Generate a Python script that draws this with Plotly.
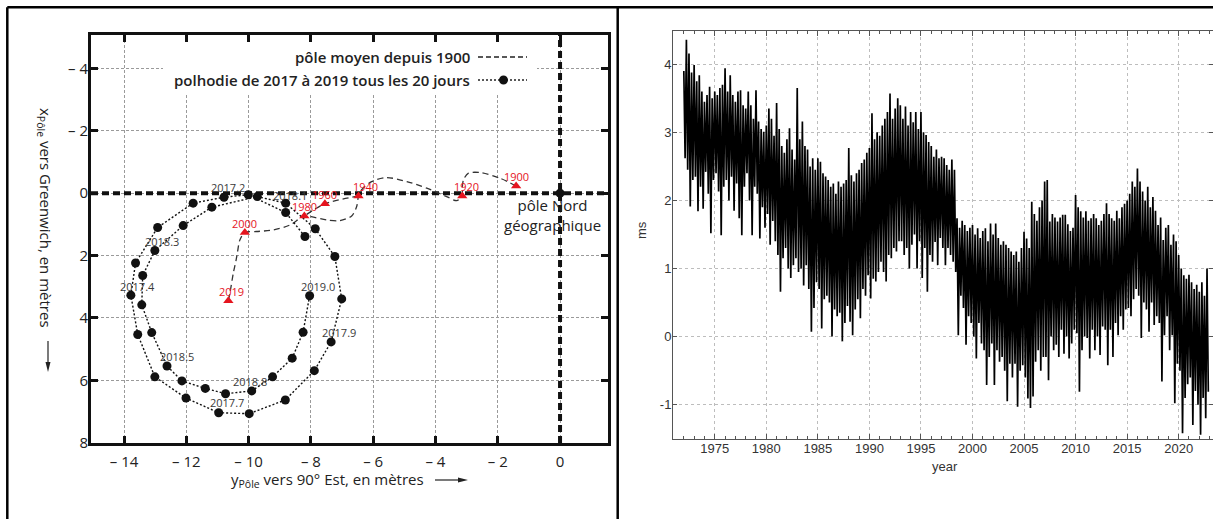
import plotly.graph_objects as go

W, H = 1213, 519

# ---------------------------------------------------------------------------
# Left panel: polar motion (metres). Horizontal axis = y_pole, vertical = x_pole
# ---------------------------------------------------------------------------
# polhody 2017 -> 2019, one point every 20 days
POLHODY_Y = [-8.19, -8.81, -10.01, -10.79, -11.78, -12.92, -13.63, -13.78, -13.56, -13.01,
             -12.01, -10.96, -9.98, -8.82, -7.89, -7.35, -7.01, -7.23, -7.86, -8.81,
             -9.72, -11.18, -12.10, -13.01, -13.40, -13.43, -13.11, -12.62, -12.14, -11.39,
             -10.74, -9.90, -9.23, -8.60, -8.25, -8.04]
POLHODY_X = [1.39, 0.62, 0.05, 0.13, 0.32, 1.10, 2.24, 3.27, 4.53, 5.89,
             6.57, 7.04, 7.07, 6.63, 5.69, 4.77, 3.39, 2.03, 1.14, 0.32,
             0.11, 0.45, 1.04, 1.84, 2.64, 3.58, 4.47, 5.54, 6.02, 6.26,
             6.43, 6.34, 5.89, 5.29, 4.46, 3.29]
POLHODY_TAGS = {2: "2017.2", 7: "2017.4", 11: "2017.7", 15: "2017.9", 19: "2018.1",
                23: "2018.3", 27: "2018.5", 31: "2018.8", 35: "2019.0"}

# mean pole track since 1900 (None separates the 1940-1960-1980 chord)
MEAN_Y = [-1.41, -1.93, -2.57, -2.94, -3.10, -3.14, -3.14, -3.32, -3.64, -4.28, -4.92,
          -5.57, -6.05, -6.37, -6.47, -6.53, -6.69, -7.07, -7.49, -7.92, -8.21, -8.67,
          -9.21, -9.74, -10.12, -10.28, -10.36, -10.40, -10.49, -10.60, -10.65,
          None, -6.47, -7.55, -8.21]
MEAN_X = [-0.23, -0.48, -0.66, -0.64, -0.43, -0.11, 0.09, 0.24, 0.11, -0.16, -0.37,
          -0.50, -0.37, -0.11, 0.09, 0.43, 0.73, 0.88, 0.86, 0.77, 0.73, 1.02,
          1.18, 1.23, 1.26, 1.50, 1.92, 2.14, 2.56, 3.21, 3.45,
          None, 0.09, 0.34, 0.73]

EPOCHS = ["1900", "1920", "1940", "1960", "1980", "2000", "2019"]
EPOCH_Y = [-1.41, -3.14, -6.47, -7.55, -8.21, -10.12, -10.65]
EPOCH_X = [-0.23, 0.09, 0.09, 0.34, 0.73, 1.26, 3.45]

GEO_POLE_Y = [0.0]
GEO_POLE_X = [0.0]

X_RANGE = [-15.06, 1.54]
Y_RANGE = [8.01, -5.07]
X_TICKS = [-14, -12, -10, -8, -6, -4, -2, 0]
X_TICK_TEXT = ["\u2013 14", "\u2013 12", "\u2013 10", "\u2013 8", "\u2013 6", "\u2013 4", "\u2013 2", "0"]
Y_TICKS = [-4, -2, 0, 2, 4, 6, 8]
Y_TICK_TEXT = ["\u2013 4", "\u2013 2", "0", "2", "4", "6", "8"]

# ---------------------------------------------------------------------------
# Right panel: length-of-day excess (ms), quarterly highs / lows from 1972.0
# ---------------------------------------------------------------------------
LOD_START = 1972.0
LOD_HI = [
    3.90, 4.36, 4.16, 3.88,   # 1972
    3.99, 3.75, 3.84, 3.60,   # 1973
    3.45, 3.55, 3.67, 3.50,   # 1974
    3.60, 3.55, 3.65, 3.70,   # 1975
    3.94, 3.60, 3.84, 3.55,   # 1976
    3.45, 3.60, 3.62, 3.40,   # 1977
    3.35, 3.60, 3.40, 3.20,   # 1978
    3.62, 3.16, 3.05, 3.01,   # 1979
    3.10, 3.35, 3.20, 2.95,   # 1980
    3.43, 3.05, 2.80, 2.70,   # 1981
    2.90, 3.06, 2.75, 2.60,   # 1982
    3.65, 2.90, 3.16, 2.80,   # 1983
    2.75, 2.50, 2.62, 2.45,   # 1984
    2.62, 2.57, 2.40, 2.35,   # 1985
    2.30, 2.20, 2.25, 2.10,   # 1986
    2.28, 2.20, 2.25, 2.30,   # 1987
    2.77, 2.37, 2.28, 2.40,   # 1988
    2.45, 2.55, 2.60, 2.70,   # 1989
    2.77, 3.28, 2.90, 3.00,   # 1990
    2.95, 3.10, 3.20, 3.30,   # 1991
    3.57, 3.20, 3.35, 3.50,   # 1992
    3.40, 3.20, 3.38, 3.10,   # 1993
    3.30, 3.15, 3.30, 3.05,   # 1994
    3.30, 3.00, 2.96, 2.86,   # 1995
    2.80, 2.64, 2.75, 2.62,   # 1996
    2.64, 2.62, 2.52, 2.45,   # 1997
    2.60, 2.45, 1.74, 1.60,   # 1998
    1.70, 1.64, 1.55, 1.60,   # 1999
    1.64, 1.50, 1.59, 1.45,   # 2000
    1.55, 1.59, 1.40, 1.66,   # 2001
    1.50, 1.66, 1.45, 1.35,   # 2002
    1.40, 1.35, 1.30, 1.25,   # 2003
    1.20, 1.25, 1.10, 1.30,   # 2004
    1.54, 1.44, 1.30, 1.98,   # 2005
    1.80, 1.70, 1.90, 2.00,   # 2006
    2.28, 2.30, 1.69, 1.80,   # 2007
    1.75, 1.69, 1.75, 1.79,   # 2008
    1.79, 1.65, 1.55, 1.60,   # 2009
    2.08, 1.90, 1.84, 1.75,   # 2010
    1.84, 1.70, 1.74, 1.80,   # 2011
    1.74, 1.64, 1.70, 1.80,   # 2012
    1.96, 1.80, 1.74, 1.70,   # 2013
    1.85, 1.74, 1.90, 1.95,   # 2014
    2.00, 2.10, 2.28, 2.20,   # 2015
    2.47, 2.28, 2.13, 2.00,   # 2016
    2.20, 1.90, 2.05, 1.85,   # 2017
    1.64, 1.75, 1.42, 1.60,   # 2018
    1.64, 1.35, 1.50, 1.40,   # 2019
    1.20, 1.00, 0.90, 0.85,   # 2020
    0.91, 0.80, 0.70, 0.76,   # 2021
    0.66, 0.80, 0.60, 1.00,   # 2022
]
LOD_LO = [
    2.62, 2.45, 1.91, 2.30,   # 1972
    2.35, 1.84, 2.20, 1.88,   # 1973
    2.42, 2.10, 1.52, 2.30,   # 1974
    2.40, 2.13, 1.49, 2.20,   # 1975
    2.30, 2.00, 2.35, 1.85,   # 1976
    2.25, 1.74, 1.49, 2.20,   # 1977
    2.40, 2.00, 1.49, 2.20,   # 1978
    2.10, 1.44, 1.90, 1.60,   # 1979
    1.80, 1.35, 1.70, 1.40,   # 1980
    1.20, 0.66, 1.15, 1.30,   # 1981
    1.00, 0.86, 1.05, 1.15,   # 1982
    0.95, 1.00, 0.75, 1.05,   # 1983
    0.70, 0.07, 0.42, 0.80,   # 1984
    0.70, 0.12, 0.55, 0.60,   # 1985
    0.50, 0.00, 0.40, 0.30,   # 1986
    0.35, -0.07, 0.20, 0.45,  # 1987
    0.22, 0.02, 0.40, 0.55,   # 1988
    0.27, 0.70, 0.60, 0.90,   # 1989
    0.56, 0.85, 0.81, 0.95,   # 1990
    1.10, 0.95, 0.81, 1.20,   # 1991
    1.15, 1.30, 1.25, 1.40,   # 1992
    1.40, 1.20, 1.30, 1.00,   # 1993
    1.35, 1.50, 1.00, 1.40,   # 1994
    0.86, 1.30, 0.66, 1.20,   # 1995
    1.10, 1.39, 1.05, 1.45,   # 1996
    1.30, 1.05, 1.30, 1.20,   # 1997
    1.10, 0.95, 0.02, 0.60,   # 1998
    0.42, -0.12, 0.30, 0.20,  # 1999
    0.00, -0.32, 0.20, -0.10, # 2000
    -0.20, -0.71, -0.30, -0.10,  # 2001
    -0.71, -0.20, -0.37, -0.30,  # 2002
    -0.50, -0.95, -0.40, -0.60,  # 2003
    -0.40, -1.03, -0.50, -0.42,  # 2004
    -0.60, -0.91, -1.05, -0.88,  # 2005
    -0.37, -0.20, -0.50, -0.30,  # 2006
    -0.30, -0.64, 0.00, -0.20,   # 2007
    -0.12, -0.30, 0.10, -0.25,   # 2008
    0.00, -0.32, -0.10, 0.10,    # 2009
    0.05, -0.81, -0.20, 0.00,    # 2010
    -0.02, -0.32, 0.10, -0.20,   # 2011
    0.00, -0.27, 0.15, 0.10,     # 2012
    -0.42, 0.10, -0.30, 0.20,    # 2013
    0.02, 0.30, 0.10, 0.40,      # 2014
    0.42, 0.30, 0.55, 0.70,      # 2015
    0.60, -0.02, 0.50, 0.40,     # 2016
    0.07, 0.50, 0.17, 0.30,      # 2017
    0.20, -0.66, 0.02, 0.30,     # 2018
    -0.20, 0.02, -0.98, -0.40,   # 2019
    -0.50, -1.42, -0.90, -0.70,  # 2020
    -0.60, -1.30, -0.80, -1.00,  # 2021
    -1.44, -0.90, -1.20, -0.81,  # 2022
]
LOD_X_TICKS = [1975, 1980, 1985, 1990, 1995, 2000, 2005, 2010, 2015, 2020]
LOD_Y_TICKS = [-1, 0, 1, 2, 3, 4]
LOD_Y_TICK_TEXT = ["-1", "0", "1", "2", "3", "4"]

# quarterly samples drawn as a zig-zag (high then low inside each quarter)
lod_t, lod_v = [], []
for i, (hi, lo) in enumerate(zip(LOD_HI, LOD_LO)):
    t = LOD_START + 0.25 * i
    lod_t += [t, t + 0.125]
    lod_v += [hi, lo]

# ---------------------------------------------------------------------------
# helpers: pixel -> paper / left-axis data coordinates
# ---------------------------------------------------------------------------
PL, PR, PT, PB = 91, 608, 35, 443   # polar-motion plot area in pixels


def pxx(p):
    return p / W


def pxy(p):
    return 1 - p / H


def data_x(p):
    return X_RANGE[0] + (p - PL) / (PR - PL) * (X_RANGE[1] - X_RANGE[0])


def data_y(p):
    return Y_RANGE[0] + (PB - p) / (PB - PT) * (Y_RANGE[1] - Y_RANGE[0])


def paper_text(px, py, text, font, **kw):
    base = dict(x=pxx(px), y=pxy(py), xref="paper", yref="paper", text=text,
                showarrow=False, xanchor="center", yanchor="middle", font=font)
    base.update(kw)
    return base


LEFT_FONT = "Open Sans"
RIGHT_FONT = "Liberation Sans"
INK = "#222222"
RED = "#e5141e"

fig = go.Figure()

# white block behind the legend, above the grid
bx0, bx1, by0, by1 = data_x(163), data_x(537), data_y(95), data_y(36)
fig.add_trace(go.Scatter(
    x=[bx0, bx1, bx1, bx0, bx0], y=[by0, by0, by1, by1, by0], mode="lines",
    fill="toself", fillcolor="white", line=dict(width=0, color="white"),
    xaxis="x", yaxis="y", hoverinfo="skip"))

# mean pole axes through the geographic pole
fig.add_trace(go.Scatter(
    x=X_RANGE, y=[0, 0], mode="lines", xaxis="x", yaxis="y",
    line=dict(color="#111111", width=4, dash="7px,4px"), hoverinfo="skip"))
fig.add_trace(go.Scatter(
    x=[0, 0], y=Y_RANGE, mode="lines", xaxis="x", yaxis="y",
    line=dict(color="#111111", width=4, dash="7px,4px"), hoverinfo="skip"))

# mean pole track
fig.add_trace(go.Scatter(
    x=MEAN_Y, y=MEAN_X, mode="lines", xaxis="x", yaxis="y",
    line=dict(color="#333333", width=1.3, dash="6px,4px", shape="spline", smoothing=0.8),
    connectgaps=False, hoverinfo="skip"))

# polhody
fig.add_trace(go.Scatter(
    x=POLHODY_Y, y=POLHODY_X, mode="lines+markers", xaxis="x", yaxis="y",
    line=dict(color="#111111", width=1.4, dash="2px,2px"),
    marker=dict(color="#111111", size=9), hoverinfo="skip"))

# mean pole epochs
fig.add_trace(go.Scatter(
    x=EPOCH_Y, y=EPOCH_X, mode="markers", xaxis="x", yaxis="y",
    marker=dict(symbol="triangle-up", color=RED, size=9), hoverinfo="skip"))

# geographic north pole
fig.add_trace(go.Scatter(
    x=GEO_POLE_Y, y=GEO_POLE_X, mode="markers", xaxis="x", yaxis="y",
    marker=dict(color="#111111", size=9), hoverinfo="skip"))

# length of day
fig.add_trace(go.Scatter(
    x=lod_t, y=lod_v, mode="lines", xaxis="x2", yaxis="y2",
    line=dict(color="#000000", width=1.7), hoverinfo="skip"))

annotations = []

polhody_offsets = {"2017.2": (-20, 7), "2017.4": (7, 9), "2017.7": (8, 10), "2017.9": (8, 9),
                   "2018.1": (4, 8), "2018.3": (7, 9), "2018.5": (10, 9), "2018.8": (-2, 9),
                   "2019.0": (8, 9)}
for idx, tag in POLHODY_TAGS.items():
    dx, dy = polhody_offsets[tag]
    annotations.append(dict(x=POLHODY_Y[idx], y=POLHODY_X[idx], xref="x", yref="y", text=tag,
                            showarrow=False, xshift=dx, yshift=dy,
                            xanchor="center", yanchor="middle",
                            font=dict(family=LEFT_FONT, size=11, color="#3a3a3a")))

epoch_offsets = {"1900": (0, 9), "1920": (4, 9), "1940": (7, 9), "1960": (0, 9),
                 "1980": (0, 9), "2000": (0, 9), "2019": (3, 9)}
for lab, ex, ey in zip(EPOCHS, EPOCH_Y, EPOCH_X):
    dx, dy = epoch_offsets[lab]
    annotations.append(dict(x=ex, y=ey, xref="x", yref="y", text=lab, showarrow=False,
                            xshift=dx, yshift=dy, xanchor="center", yanchor="middle",
                            font=dict(family=LEFT_FONT, size=11, color=RED)))

annotations.append(paper_text(552, 215, "pôle Nord<br>géographique",
                              dict(family=LEFT_FONT, size=15, color=INK), align="center"))

# legend block
legend_font = dict(family=LEFT_FONT, size=15, color=INK, weight=600)
annotations.append(paper_text(472, 57, "pôle moyen depuis 1900", legend_font, xanchor="right"))
annotations.append(paper_text(472, 80, "polhodie de 2017 à 2019 tous les 20 jours", legend_font,
                              xanchor="right"))

# axis titles of the polar-motion panel
title_font = dict(family=LEFT_FONT, size=15, color=INK)
annotations.append(paper_text(327, 480, "y<sub>Pôle</sub> vers 90° Est, en mètres", title_font))
annotations.append(paper_text(45, 218, "x<sub>Pôle</sub> vers Greenwich, en mètres", title_font,
                              textangle=90))

# axis titles of the length-of-day panel
small_font = dict(family=RIGHT_FONT, size=13, color="#333333")
annotations.append(paper_text(641, 230, "ms", small_font, textangle=-90))
annotations.append(paper_text(945, 466, "year", small_font))

shapes = [
    # direction arrows next to the axis titles
    dict(type="line", xref="paper", yref="paper", x0=pxx(435), x1=pxx(460), y0=pxy(480), y1=pxy(480),
         line=dict(color=INK, width=1.2)),
    dict(type="path", xref="paper", yref="paper",
         path=f"M {pxx(458)},{pxy(477.5)} L {pxx(468)},{pxy(480)} L {pxx(458)},{pxy(482.5)} Z",
         fillcolor=INK, line=dict(width=0)),
    dict(type="line", xref="paper", yref="paper", x0=pxx(48), x1=pxx(48), y0=pxy(341), y1=pxy(364),
         line=dict(color=INK, width=1.2)),
    dict(type="path", xref="paper", yref="paper",
         path=f"M {pxx(45.5)},{pxy(362)} L {pxx(48)},{pxy(372)} L {pxx(50.5)},{pxy(362)} Z",
         fillcolor=INK, line=dict(width=0)),
    # legend samples
    dict(type="line", xref="paper", yref="paper", x0=pxx(478), x1=pxx(527), y0=pxy(57), y1=pxy(57),
         line=dict(color=INK, width=1.3, dash="5px,3px")),
    dict(type="line", xref="paper", yref="paper", x0=pxx(478), x1=pxx(527), y0=pxy(80), y1=pxy(80),
         line=dict(color=INK, width=1.4, dash="2px,2px")),
    dict(type="circle", xref="paper", yref="paper", x0=pxx(499), x1=pxx(508),
         y0=pxy(84.5), y1=pxy(75.5), fillcolor="#111111", line=dict(width=0)),
    # page frame
    dict(type="line", xref="paper", yref="paper", x0=pxx(7.3), x1=1, y0=pxy(7.3), y1=pxy(7.3),
         line=dict(color="black", width=2.5)),
    dict(type="line", xref="paper", yref="paper", x0=pxx(7.3), x1=pxx(7.3), y0=0, y1=pxy(7.3),
         line=dict(color="black", width=2.5)),
    dict(type="line", xref="paper", yref="paper", x0=pxx(617.7), x1=pxx(617.7), y0=0, y1=pxy(7.3),
         line=dict(color="black", width=2.5)),
]

left_axis = dict(showline=True, linewidth=3, linecolor="#111111", mirror="ticks",
                 ticks="inside", ticklen=7, tickwidth=3, tickcolor="#111111",
                 showgrid=True, gridcolor="#9a9a9a", gridwidth=1, griddash="3px,2px",
                 zeroline=False, automargin=False,
                 tickfont=dict(family=LEFT_FONT, size=15, color=INK))
right_axis = dict(showline=True, linewidth=1, linecolor="#555555", mirror="ticks",
                  ticks="inside", tickcolor="#555555", tickwidth=1,
                  showgrid=True, gridcolor="#bdbdbd", gridwidth=1, griddash="dot",
                  zeroline=False, automargin=False,
                  tickfont=dict(family=RIGHT_FONT, size=13, color="#333333"))

fig.update_layout(
    width=W, height=H, autosize=False, margin=dict(l=0, r=0, t=0, b=0, pad=0),
    paper_bgcolor="white", plot_bgcolor="white", showlegend=False,
    xaxis=dict(left_axis, domain=[pxx(PL), pxx(PR)], range=X_RANGE,
               tickvals=X_TICKS, ticktext=X_TICK_TEXT, anchor="y", ticklabelstandoff=3),
    yaxis=dict(left_axis, domain=[pxy(PB), pxy(PT)], range=Y_RANGE,
               tickvals=Y_TICKS, ticktext=Y_TICK_TEXT, anchor="x", ticklabelstandoff=-3),
    xaxis2=dict(right_axis, domain=[pxx(673), 1.0], range=[1970.95, 2023.33],
                tickvals=LOD_X_TICKS, ticklen=5, anchor="y2", ticklabelstandoff=-3,
                minor=dict(dtick=1, tick0=1970, ticks="inside", ticklen=3,
                           tickcolor="#555555", showgrid=False)),
    yaxis2=dict(right_axis, domain=[pxy(439), pxy(31)], range=[-1.504, 4.489],
                tickvals=LOD_Y_TICKS, ticktext=LOD_Y_TICK_TEXT, ticklen=4, anchor="x2",
                ticklabelstandoff=-2),
    annotations=annotations,
    shapes=shapes,
)

fig.write_html("out.html", config={"responsive": False})
